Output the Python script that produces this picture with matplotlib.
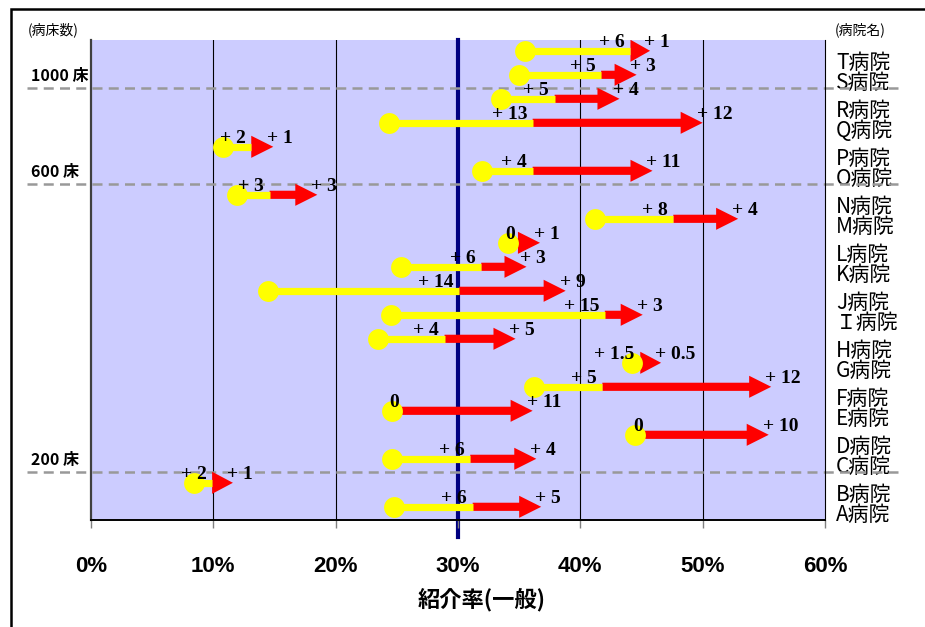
import numpy as np
import matplotlib.pyplot as plt
from matplotlib.patches import Rectangle

plt.rcParams['font.family'] = ['Noto Sans CJK JP', 'DejaVu Sans']

# hospitals from top to bottom
hospitals = ['T病院', 'S病院', 'R病院', 'Q病院', 'P病院', 'O病院', 'N病院', 'M病院',
             'L病院', 'K病院', 'J病院', 'Ｉ病院', 'H病院', 'G病院', 'F病院', 'E病院',
             'D病院', 'C病院', 'B病院', 'A病院']
# referral rate (%): start point, after first step (yellow), after second step (red)
start_rate = [35.5, 35.0, 33.5, 24.4, 10.8, 32.0, 11.9, 41.2, 34.1, 25.3,
              14.5, 24.5, 23.5, 44.2, 36.2, 24.6, 44.5, 24.6, 8.4, 24.8]
mid_rate = [44.1, 41.7, 37.9, 36.1, 13.1, 36.1, 14.6, 47.6, 34.1, 31.9,
            30.1, 42.0, 28.9, 44.9, 41.8, 24.6, 44.5, 31.0, 9.9, 31.2]
end_rate = [45.7, 44.6, 43.2, 50.0, 14.9, 45.9, 18.5, 52.9, 36.7, 35.6,
            38.8, 45.1, 34.7, 46.6, 55.6, 36.1, 55.4, 36.4, 11.6, 36.8]
gain_1 = ['+ 6', '+ 5', '+ 5', '+ 13', '+ 2', '+ 4', '+ 3', '+ 8', '0', '+ 6',
          '+ 14', '+ 15', '+ 4', '+ 1.5', '+ 5', '0', '0', '+ 6', '+ 2', '+ 6']
gain_2 = ['+ 1', '+ 3', '+ 4', '+ 12', '+ 1', '+ 11', '+ 3', '+ 4', '+ 1', '+ 3',
          '+ 9', '+ 3', '+ 5', '+ 0.5', '+ 12', '+ 11', '+ 10', '+ 4', '+ 1', '+ 5']
bed_lines = [17.45, 13.45, 1.47]
bed_labels = ['1000 床', '600 床', '200 床']
x_ticks = [0, 10, 20, 30, 40, 50, 60]
target = 30

fig = plt.figure(figsize=(9.25, 6.27), dpi=100)
ax = fig.add_axes([91 / 925, 1 - 520 / 627, 734 / 925, 480 / 627])
ax.set_facecolor('#ccccff')
ax.set_xlim(0, 60)
ax.set_ylim(-0.55, 19.45)

ax.spines['top'].set_visible(False)
ax.spines['left'].set_color('#404040')
ax.spines['left'].set_linewidth(1.6)
ax.spines['bottom'].set_linewidth(1.4)
ax.spines['right'].set_linewidth(0.8)

ax.set_yticks([])
ax.set_xticks(x_ticks)
ax.set_xticklabels([f'{t}%' for t in x_ticks], fontsize=16, fontweight='bold',
                   family=['Liberation Sans', 'DejaVu Sans'])
ax.tick_params(axis='x', length=6, width=1, color='#808080', pad=20)

for t in x_ticks[1:-1]:
    if t != target:
        ax.axvline(t, color='black', lw=0.8, zorder=0.5)
ax.plot([target, target], [-1.25, 19.45], color='#000080', lw=3, zorder=1, clip_on=False)

n = len(hospitals)
rows = np.arange(n)[::-1]
num_font = dict(fontsize=14, fontweight='bold', family='Liberation Serif', zorder=6)
for i in range(n):
    y = rows[i]
    x0, x1, x2 = start_rate[i], mid_rate[i], end_rate[i]
    hl = min(1.8, x2 - x1)
    ax.arrow(x1, y, x2 - x1, 0, width=0.34, head_width=0.92, head_length=hl,
             length_includes_head=True, color='#ff0000', lw=0, zorder=3)
    if x1 > x0:
        ax.plot([x0, x1], [y, y], color='#ffff00', lw=5.2, solid_capstyle='butt', zorder=3.5)
    ax.plot(x0, y, 'o', ms=15, color='#ffff00', mec='none', zorder=4)

    if gain_1[i] == '0':
        ax.text(x0 + 0.2, y + 0.33, gain_1[i], ha='center', va='center', **num_font)
    else:
        ax.text(x1 - 0.45, y + 0.33, gain_1[i], ha='right', va='center', **num_font)
    ax.text(x2 - 0.5, y + 0.36, gain_2[i], ha='left', va='center', **num_font)

    off = 0.49 if i % 2 == 0 else 0.36
    ax.text(60.9, y - off, hospitals[i], ha='left', va='center', fontsize=15,
            zorder=2, clip_on=False)

for yl, lab in zip(bed_lines, bed_labels):
    ax.plot([-5.2, 66.0], [yl, yl], color='#999999', lw=1.8, ls=(0, (4, 2.5)),
            zorder=2.5, clip_on=False)
    ax.text(-4.9, yl + 0.5, lab, ha='left', va='center', fontsize=11.5,
            fontweight='bold', clip_on=False)

ax.text(-5.2, 19.87, '(病床数)', ha='left', va='center', fontsize=10, clip_on=False)
ax.text(60.8, 19.87, '(病院名)', ha='left', va='center', fontsize=10, clip_on=False)

fig.text(482 / 925, 1 - 600 / 627, '紹介率(一般)', ha='center', va='center',
         fontsize=16, fontweight='bold')

fig.patches.append(Rectangle((11 / 925, -0.1), 1.2, 1.1 - 9 / 627, transform=fig.transFigure,
                             fill=False, ec='black', lw=1.8, clip_on=False))

fig.savefig('out.png', dpi=100)
